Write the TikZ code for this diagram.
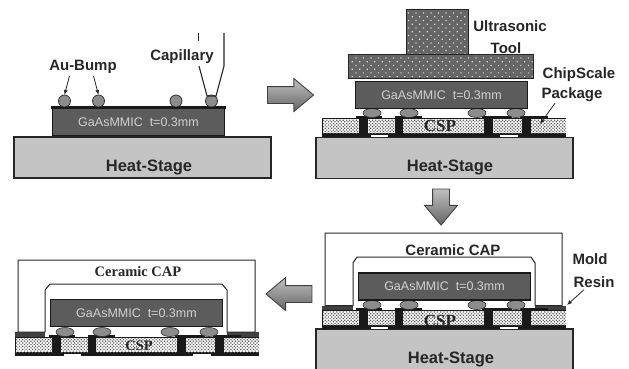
\documentclass[tikz,border=0pt]{standalone}
\usepackage{fontspec}
\setmainfont{Liberation Sans}
\newfontfamily\capfont{Liberation Serif}
\usetikzlibrary{arrows.meta,positioning,patterns.meta,shapes.arrows,shapes.geometric}
\definecolor{chipgray}{HTML}{5C5C5C}
\definecolor{stagegray}{HTML}{C4C4C4}
\definecolor{toolgray}{HTML}{666666}
\tikzset{
  stage/.style={draw=black!85, line width=1.2pt, fill=stagegray, outer sep=0pt, minimum width=257pt, minimum height=41pt},
  stagetext/.style={font=\fontsize{16.5}{18}\selectfont\bfseries, text=black!85, inner sep=0pt},
  chip/.style={draw=black!90, line width=1.6pt, fill=chipgray, outer sep=0pt, minimum width=172pt, minimum height=27pt, inner sep=0pt, font=\fontsize{12.5}{14}\selectfont, text=black!18},
  bump/.style={draw=black!80, line width=0.8pt, fill=black!45, circle, minimum size=12pt, inner sep=0pt, outer sep=0pt},
  oval/.style={draw=black!80, line width=0.6pt, fill=black!45, ellipse, minimum width=18pt, minimum height=9pt, inner sep=0pt, outer sep=0pt},
  lbl/.style={font=\fontsize{15}{17}\selectfont\bfseries, text=black!85, inner sep=0pt},
  tool/.style={draw=black!85, line width=0.9pt, preaction={fill=toolgray}, pattern={Dots[distance=5.3pt,radius=0.8pt,angle=45]}, pattern color=black!15},
  hatch/.style={pattern={Dots[distance=2.3pt,radius=0.85pt,angle=45]}, pattern color=black!65},
  capshell/.style={draw=black!85, line width=1pt, fill=white, line join=round},
  csptext/.style={font=\fontsize{#1}{18}\selectfont\capfont\bfseries, text=black!85, inner sep=0pt},
  lead/.style={-{Latex[length=5pt,width=4pt]}, line width=0.8pt, black!85},
  flow/.style={single arrow, draw=black!75, line width=0.9pt, top color=black!25, bottom color=black!60, minimum height=46pt, single arrow head extend=8pt, single arrow tip angle=80, inner sep=0pt, outer sep=0pt}
}
\newcommand{\cspboard}[3]{%
  \begin{scope}[shift={(#1,#2)}]
    \fill[black!90] (0,0) rectangle (244,19);
    \foreach \xa/\xb in {1/37,46/73,81/162,171/200,209/244}
      \fill[white] (\xa,1) rectangle (\xb,15);
    \foreach \xa/\xb in {1/37,46/73,81/162,171/200,209/244}
      \path[hatch] (\xa,1) rectangle (\xb,15);
    \foreach \xa/\xb in {49/66,178/196}
      \fill[white] (\xa,16.5) rectangle (\xb,19);
    \foreach \xa/\xb in {34/60,73/100,160/190,198/226}
      \fill[black!90] (\xa,-2) rectangle (\xb,1);
    \foreach \xb [count=\i] in {50,87,155,194}
      \node[oval] (#3\i) at (\xb,-5) {};
  \end{scope}
}
\begin{document}
\begin{tikzpicture}[x=1pt,y=-1pt]
  \useasboundingbox (0,0) rectangle (629,369);

  % first step
  \node[stage] (stageA) at (142.5,157.5) {};
  \node[stagetext] (heatA) at (149,167) {Heat-Stage};
  \node[chip] (chipA) at (138.5,122) {GaAsMMIC\ \ t=0.3mm};
  \fill[black!90] (51,106) rectangle (226,109);
  \node[bump] (bumpA) at (64.5,101) {};
  \node[bump] (bumpB) at (98.5,101) {};
  \node[bump] (bumpC) at (176,101) {};
  \node[bump] (bumpD) at (211.5,101) {};
  \node[lbl] (aubump) at (83,67) {Au-Bump};
  \node[lbl] (capillary) at (182,57) {Capillary};
  \draw[lead] (aubump.south -| bumpA) ++(5,2) coordinate (leadA) -- (bumpA.north);
  \draw[lead] (aubump.south -| bumpB) ++(-5,2) coordinate (leadB) -- (bumpB.north);
  \draw[black!85, line width=1.1pt] (224,33) -- (224,66) -- (216,96) -- (207,96) -- (199,66);
  \draw[black!85, line width=1.4pt] (198.5,33) -- (198.5,41);

  \node[flow] (flowA) at (285.5,95) {\rule{0pt}{16pt}};

  % second step
  \node[stage] (stageB) at (444.5,158) {};
  \node[stagetext] (heatB) at (450,167) {Heat-Stage};
  \cspboard{322}{118}{ovalB}
  \node[chip] (chipB) at (441.5,95) {GaAsMMIC\ \ t=0.3mm};
  \draw[tool] (406,9) rectangle (468,54);
  \draw[tool] (348,54) rectangle (533,78);
  \node[csptext=17] (cspB) at (440,126) {CSP};
  \node[lbl] (ultra) at (510,26) {Ultrasonic};
  \node[lbl] (toolB) at (506,48) {Tool};
  \node[lbl] (chipscale) at (579,75) {ChipScale};
  \node[lbl] (package) at (572,95) {Package};
  \coordinate (holeB) at (540,124);
  \draw[lead] (package.south) ++(-17,1) coordinate (leadC) -- (holeB);

  \node[flow, rotate=-90, minimum height=36pt] (flowB) at (441,202) {\rule{0pt}{16pt}};

  % third step
  \node[stage] (stageC) at (444.5,349.5) {};
  \node[stagetext] (heatC) at (451,359) {Heat-Stage};
  \fill[black!75] (322,306) rectangle (353,311);
  \fill[black!75] (535,306) rectangle (566,311);
  \draw[capshell] (325,305.5) -- (325,233) -- (562,233) -- (562,305.5) -- (535,305.5) -- (535,263) -- (531,257) -- (357,257) -- (353,263) -- (353,305.5) -- cycle;
  \cspboard{322}{310}{ovalC}
  \node[chip] (chipC) at (444.5,286.5) {GaAsMMIC\ \ t=0.3mm};
  \node[csptext=17] (cspC) at (440,321) {CSP};
  \node[lbl] (capC) at (453,250) {Ceramic CAP};
  \node[lbl] (mold) at (590,259) {Mold};
  \node[lbl] (resin) at (594,282) {Resin};
  \coordinate (holeC) at (567,305);
  \draw[lead] (resin.south) ++(-10,2) coordinate (leadD) -- (holeC);

  \node[flow, rotate=180] (flowC) at (294,294) {\rule{0pt}{16pt}};

  % fourth step
  \fill[black!75] (15,332) rectangle (45,338);
  \fill[black!75] (227,332) rectangle (259,338);
  \draw[capshell] (18,332) -- (18,260) -- (255,260) -- (255,332) -- (227,332) -- (227,290) -- (222,284) -- (50,284) -- (45,290) -- (45,332) -- cycle;
  \cspboard{15}{337}{ovalD}
  \node[chip] (chipD) at (136.5,313) {GaAsMMIC\ \ t=0.3mm};
  \node[csptext=14.5] (cspD) at (139,346) {CSP};
  \node[csptext=14.5] (capD) at (138,272) {Ceramic CAP};
\end{tikzpicture}
\end{document}
